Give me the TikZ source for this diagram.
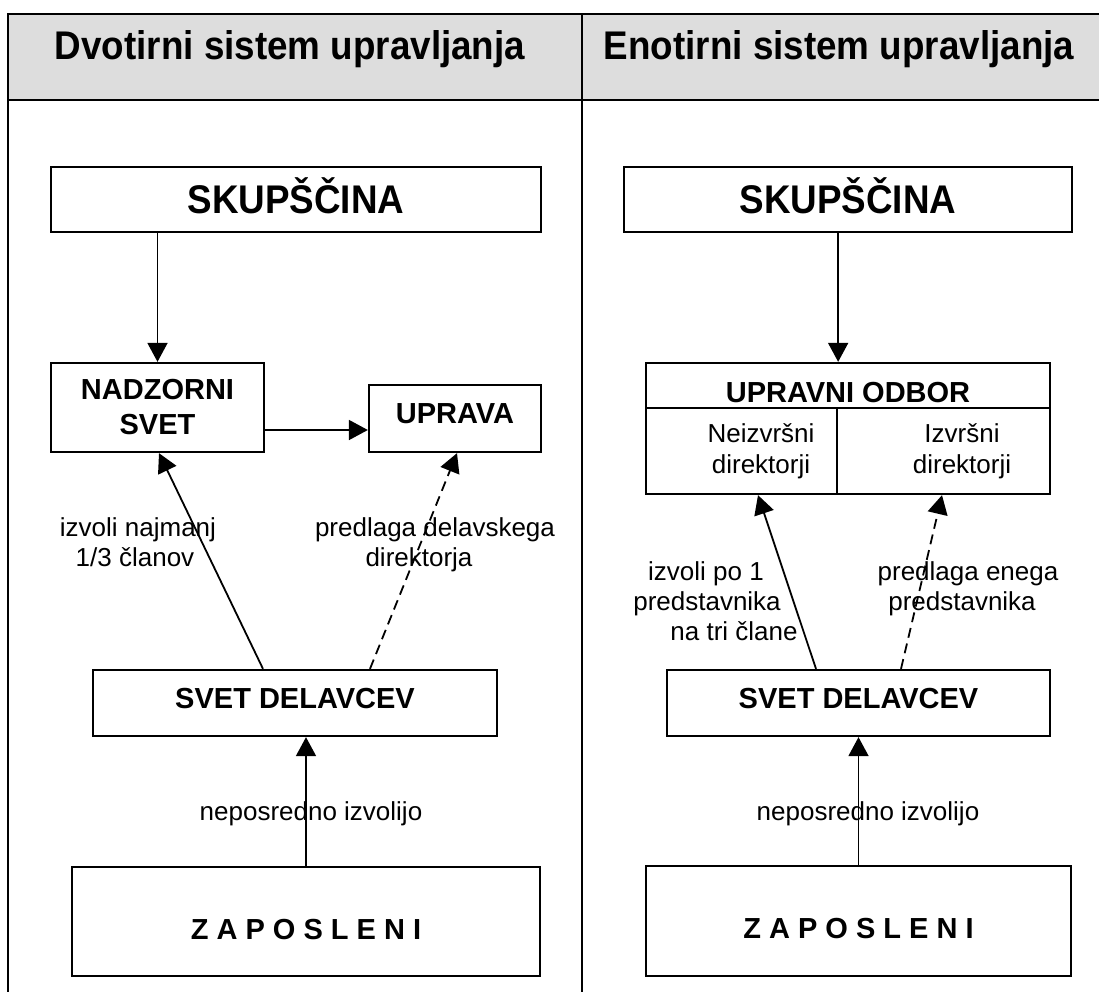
\documentclass[tikz,border=0pt]{standalone}
\usepackage{fontspec}
\setmainfont{Liberation Sans}
\newfontfamily\condfont{Liberation Sans}[FakeStretch=0.92]
\usetikzlibrary{arrows.meta}
\definecolor{hdr}{RGB}{221,221,221}
\tikzset{
  box/.style={draw, line width=2.3pt, inner sep=0pt, align=center,
    font=\fontsize{29}{35}\selectfont\bfseries},
  big/.style={box, font=\condfont\fontsize{40}{44}\selectfont\bfseries},
  cell/.style={draw, line width=2.3pt, inner sep=0pt},
  arr/.style={line width=1.8pt, -{Triangle[width=20pt,length=19pt]}},
  dsh/.style={arr, dash pattern=on 10pt off 6pt},
  lbl/.style={inner sep=0pt, anchor=base, font=\fontsize{26}{30}\selectfont},
  hd/.style={inner sep=0pt, anchor=base, font=\condfont\fontsize{40}{44}\selectfont\bfseries},
  ttl/.style={inner sep=0pt, anchor=base, font=\fontsize{29}{35}\selectfont\bfseries},
  tablerule/.style={line width=2.3pt},
}
\begin{document}
\begin{tikzpicture}[x=1pt, y=-1pt]
\useasboundingbox (0,0) rectangle (1099,992);
% table
\fill[hdr] (8,14) rectangle (1099,100);
\draw[tablerule] (8,992) -- (8,14) -- (1099,14);
\draw[tablerule] (8,100) -- (1099,100);
\draw[tablerule] (582,14) -- (582,992);
\node[hd] (hL) at (290,60) {Dvotirni sistem upravljanja};
\node[hd] (hR) at (839,60) {Enotirni sistem upravljanja};

% ---------- left column ----------
\node[big, minimum width=490pt, minimum height=65pt, text height=28pt, text depth=0pt]
  (skL) at (296,199.5) {SKUPŠČINA};
\node[box, minimum width=213pt, minimum height=89pt] (nsL) at (157.5,407.5) {NADZORNI\\SVET};
\node[box, minimum width=172pt, minimum height=67pt, text height=9pt, text depth=0pt]
  (upL) at (455,418.5) {UPRAVA};
\node[box, minimum width=404pt, minimum height=66pt, text height=10pt, text depth=0pt]
  (svL) at (295,703) {SVET DELAVCEV};
\node[box, minimum width=468pt, minimum height=109pt, text height=35pt, text depth=0pt]
  (zaL) at (306,921.5) {Z A P O S L E N I};

\draw[arr] ([xshift=-138.5pt]skL.south) -- (nsL.north);
\draw[arr] ([yshift=-22.5pt]nsL.east) -- ([yshift=-11.5pt]upL.west);
\draw[arr] ([xshift=-32pt]svL.north) -- ([xshift=1.5pt]nsL.south);
\draw[dsh] ([xshift=75pt]svL.north) -- ([xshift=2pt]upL.south);
\draw[arr] (zaL.north) -- (zaL.north |- svL.south);

\node[lbl] (la1) at (138,536) {izvoli najmanj};
\node[lbl] (la2) at (135,566) {1/3 članov};
\node[lbl] (lb1) at (435,536) {predlaga delavskega};
\node[lbl] (lb2) at (419,566) {direktorja};
\node[lbl] (lc) at (311,820) {neposredno izvolijo};

% ---------- right column ----------
\node[big, minimum width=448pt, minimum height=65pt, text height=28pt, text depth=0pt]
  (skR) at (848,199.5) {SKUPŠČINA};
\node[cell, minimum width=404pt, minimum height=131pt] (uoR) at (848,428.5) {};
\node[cell, minimum width=191pt, minimum height=86pt] (neR) at (741.5,451) {};
\node[cell, minimum width=213pt, minimum height=86pt] (izR) at (943.5,451) {};
\node[ttl] (uoT) at (848,402) {UPRAVNI ODBOR};
\node[lbl] (ne1) at (761,442) {Neizvršni};
\node[lbl] (ne2) at (761,473) {direktorji};
\node[lbl] (iz1) at (962,442) {Izvršni};
\node[lbl] (iz2) at (962,473) {direktorji};
\node[box, minimum width=383pt, minimum height=66pt, text height=10pt, text depth=0pt]
  (svR) at (858.5,703) {SVET DELAVCEV};
\node[box, minimum width=425pt, minimum height=110pt, text height=35pt, text depth=0pt]
  (zaR) at (858.5,921) {Z A P O S L E N I};

\draw[arr] (skR.south -| neR.east) -- (uoR.north -| neR.east);
\draw[arr] ([xshift=-42.5pt]svR.north) -- ([xshift=16.5pt]neR.south);
\draw[dsh] ([xshift=42.5pt]svR.north) -- ([xshift=-1.5pt]izR.south);
\draw[arr] (zaR.north) -- (svR.south);

\node[lbl] (ra1) at (706,580) {izvoli po 1};
\node[lbl] (ra2) at (707,610) {predstavnika};
\node[lbl] (ra3) at (734,640) {na tri člane};
\node[lbl] (rb1) at (968,580) {predlaga enega};
\node[lbl] (rb2) at (962,610) {predstavnika};
\node[lbl] (rc) at (868,820) {neposredno izvolijo};
\end{tikzpicture}
\end{document}
